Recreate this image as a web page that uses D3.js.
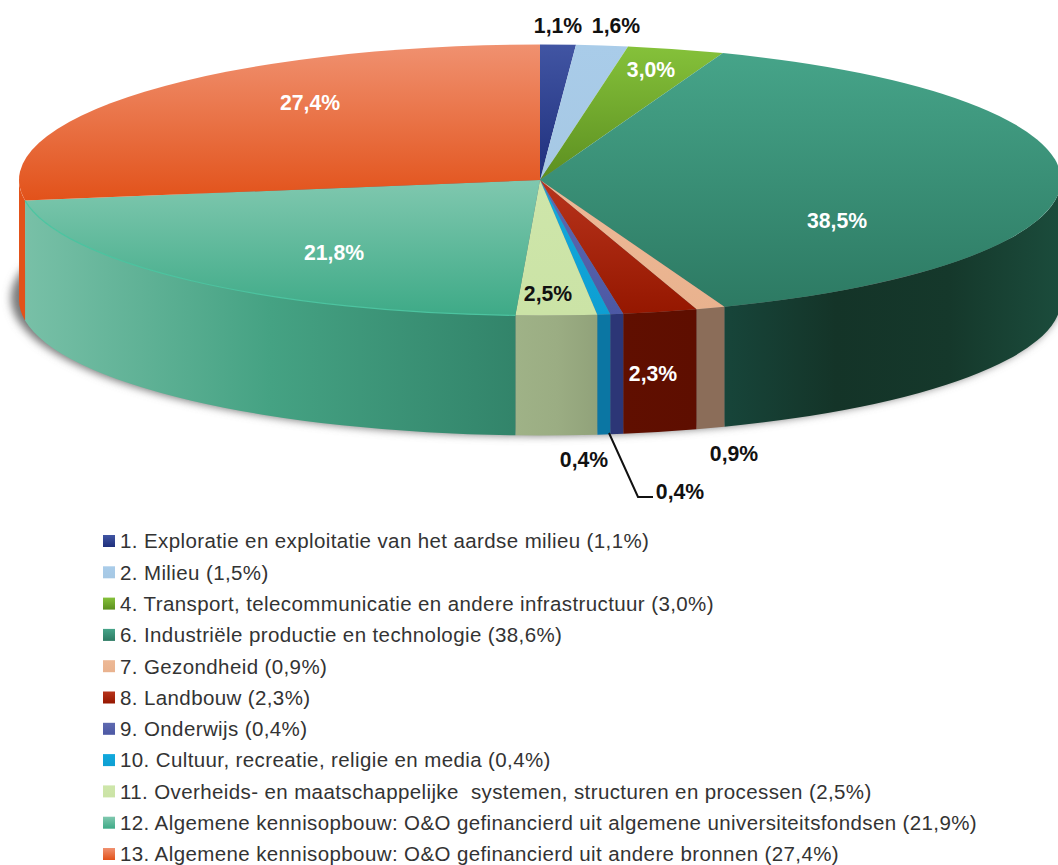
<!DOCTYPE html>
<html>
<head>
<meta charset="utf-8">
<script src="https://d3js.org/d3.v7.min.js"></script>
<style>
  html, body {margin: 0; padding: 0; background: #fff; overflow: hidden}
  svg {display: block; font-family: "Liberation Sans", Arial, sans-serif}
  text {white-space: pre}
</style>
</head>
<body>
<svg id="chart" width="1058" height="865"></svg>

<script>
  // slice values as printed on the pie
  var sliceValues = [1.1, 1.6, 3.0, 38.5, 0.9, 2.3, 0.4, 0.4, 2.5, 21.8, 27.4]

  // legend prints slightly different numbers than the slices
  var legendNames = [
    '1. Exploratie en exploitatie van het aardse milieu',
    '2. Milieu',
    '4. Transport, telecommunicatie en andere infrastructuur',
    '6. Industriële productie en technologie',
    '7. Gezondheid',
    '8. Landbouw',
    '9. Onderwijs',
    '10. Cultuur, recreatie, religie en media',
    '11. Overheids- en maatschappelijke  systemen, structuren en processen',
    '12. Algemene kennisopbouw: O&O gefinancierd uit algemene universiteitsfondsen',
    '13. Algemene kennisopbouw: O&O gefinancierd uit andere bronnen'
  ]
  var legendValues = [1.1, 1.5, 3.0, 38.6, 0.9, 2.3, 0.4, 0.4, 2.5, 21.9, 27.4]

  // top face gradient [outer, inner], wall gradient left to right
  var topColors = [['#4155a3', '#1f2f7c'], ['#a9cce9', '#a6c8e4'], ['#85c13a', '#5c8f20'], ['#46a489', '#2d7a63'],
    ['#edb996', '#e9b28e'], ['#b8341c', '#951700'], ['#5f6ab0', '#4c58a4'], ['#11a9dd', '#0e9fd2'],
    ['#cee6aa', '#cbe3a6'], ['#80c8af', '#3eaa87'], ['#f09170', '#e2521a']]
  var wallColors = [['#1f2f7c', '#1f2f7c'], ['#6f8ba0', '#6f8ba0'], ['#5c8f20', '#5c8f20'],
    ['#17453a', '#143428', '#15382b', '#1b4c3c'], ['#8b6d59', '#8b6d59'], ['#600f00', '#5e0e00'],
    ['#2c3676', '#2c3676'], ['#0b76a3', '#0b76a3'], ['#9fb287', '#9bad83', '#91a27a'],
    ['#78c0a7', '#45a283', '#32846a'], ['#e2521a', '#e2521a']]

  // hand placed label centres, same order as sliceValues
  var labelPos = [[558, 25], [616, 25], [651, 69], [837, 220], [734, 453], [653, 373], [680, 491], [584, 459], [548, 293], [334, 252], [310, 102]]
  var labelColors = ['#111', '#111', '#fff', '#fff', '#111', '#fff', '#111', '#111', '#111', '#fff', '#fff']

  var cx = 540, cy = 180, rx = 521, ry = 135.5, depth = 120

  var svg = d3.select('#chart')
  var defs = svg.append('defs')

  var blur = defs.append('filter').attr('id', 'soft').attr('x', '-5%').attr('y', '-10%').attr('width', '110%').attr('height', '120%')
  blur.append('feGaussianBlur').attr('stdDeviation', 4)

  function gradient(id, colors, horizontal) {
    var g = defs.append('linearGradient').attr('id', id)
        .attr('x1', 0).attr('y1', 0).attr('x2', horizontal ? 1 : 0).attr('y2', horizontal ? 0 : 1)
    colors.forEach(function (c, i) {
      g.append('stop').attr('offset', i / (colors.length - 1)).attr('stop-color', c)
    })
  }
  topColors.forEach(function (c, i) {gradient('top' + i, c, false)})
  wallColors.forEach(function (c, i) {gradient('wall' + i, c, true)})

  var arcs = d3.pie().sort(null).startAngle(0).endAngle(2 * Math.PI)(sliceValues)

  function rimX(a) {return cx + rx * Math.sin(a)}
  function rimY(a) {return cy - ry * Math.cos(a)}

  // shadow below the disc
  svg.append('ellipse').attr('cx', cx - 4).attr('cy', cy + depth - 2).attr('rx', rx + 4).attr('ry', ry + 2)
      .attr('fill', '#777').attr('filter', 'url(#soft)')

  // walls: only the part of each slice on the front half of the ellipse
  var front = arcs.map(function (d, i) {
    return {i: i, a0: Math.max(d.startAngle, Math.PI / 2), a1: Math.min(d.endAngle, 3 * Math.PI / 2)}
  }).filter(function (d) {return d.a1 > d.a0})

  svg.append('g').selectAll('path').data(front).enter().append('path')
      .attr('d', function (d) {
        return 'M' + rimX(d.a0) + ',' + rimY(d.a0) +
            'A' + rx + ',' + ry + ' 0 0 1 ' + rimX(d.a1) + ',' + rimY(d.a1) +
            'L' + rimX(d.a1) + ',' + (rimY(d.a1) + depth) +
            'A' + rx + ',' + ry + ' 0 0 0 ' + rimX(d.a0) + ',' + (rimY(d.a0) + depth) + 'Z'
      })
      .attr('fill', function (d) {return 'url(#wall' + d.i + ')'})

  // top face
  var arc = d3.arc().innerRadius(0).outerRadius(rx)
  svg.append('g').attr('transform', 'translate(' + cx + ',' + cy + ') scale(1,' + (ry / rx) + ')')
      .selectAll('path').data(arcs).enter().append('path')
      .attr('d', arc)
      .attr('fill', function (d, i) {return 'url(#top' + i + ')'})

  // thin light rim on slice 12
  var rim = arcs[9]
  svg.append('path')
      .attr('d', 'M' + rimX(rim.startAngle) + ',' + rimY(rim.startAngle) +
          'A' + rx + ',' + ry + ' 0 0 1 ' + rimX(rim.endAngle) + ',' + rimY(rim.endAngle))
      .attr('fill', 'none').attr('stroke', '#4cc4a0').attr('stroke-width', 1.2)

  // leader line of the second 0,4%
  var leader = d3.line()([[609, 433], [638, 497], [653, 497]])
  svg.append('path').attr('d', leader).attr('fill', 'none').attr('stroke', '#111').attr('stroke-width', 2)

  function comma(v) {return v.toFixed(1).replace('.', ',') + '%'}

  svg.append('g').selectAll('text').data(sliceValues).enter().append('text')
      .attr('x', function (d, i) {return labelPos[i][0]})
      .attr('y', function (d, i) {return labelPos[i][1]})
      .attr('dy', '0.36em').attr('text-anchor', 'middle')
      .attr('font-size', 21.2).attr('font-weight', 'bold')
      .attr('fill', function (d, i) {return labelColors[i]})
      .text(comma)

  // legend
  var rowY = d3.scalePoint().domain(d3.range(legendNames.length)).range([541, 854])
  var rows = svg.append('g').selectAll('g').data(legendNames).enter().append('g')
      .attr('transform', function (d, i) {return 'translate(0,' + rowY(i) + ')'})
  rows.append('rect').attr('x', 103).attr('y', -6).attr('width', 12).attr('height', 12)
      .attr('fill', function (d, i) {return 'url(#top' + i + ')'})
  rows.append('text').attr('x', 120).attr('dy', '0.36em')
      .attr('font-size', 20.5).attr('letter-spacing', 0.39).attr('fill', '#333')
      .text(function (d, i) {return d + ' (' + comma(legendValues[i]) + ')'})
</script>
</body>
</html>
